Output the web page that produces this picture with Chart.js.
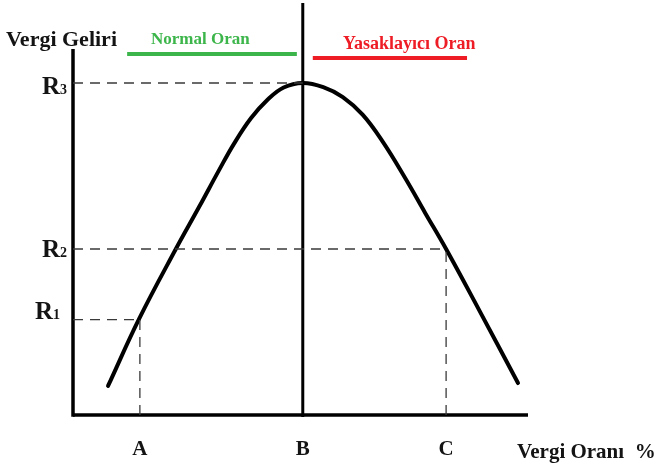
<!DOCTYPE html>
<html>
<head>
<meta charset="utf-8">
<script src="https://cdn.jsdelivr.net/npm/chart.js@4.4.1/dist/chart.umd.min.js"></script>
<style>
    html, body { margin: 0; padding: 0; background: #fff; }
    #wrap { width: 657px; height: 464px; position: relative; }
</style>
</head>
<body>
<div id="wrap"><canvas id="laffer"></canvas></div>
<script>
// Laffer egrisi (0-100 birim)
const categories = ['A', 'B', 'C'];
const categoryX = [14.7, 50.5, 82.0];
const revenueLabels = ['R1', 'R2', 'R3'];
const revenueY = [23, 40, 80];

const curveX = [7.7, 14.5, 22.6, 27.7, 32.1, 35.4, 39.1, 42.7, 46.3, 50.5, 55.0, 59.3, 63.7, 68.1, 73.0, 77.4, 82.0, 89.5, 97.8];
const curveY = [7.0, 23.1, 40.0, 50.1, 59.0, 65.4, 71.5, 75.9, 78.9, 80.0, 79.0, 76.6, 72.3, 65.8, 57.1, 48.7, 40.0, 24.8, 7.7];

const axisTopY = 88.2;
const axisRightX = 100;
const normalRange = [11.9, 49.2];
const normalY = 87.0;
const prohibitiveRange = [52.7, 86.6];
const prohibitiveY = 86.0;

const yTitle = 'Vergi Geliri';
const xTitle = 'Vergi Oranı  %';
const normalText = 'Normal Oran';
const prohibitiveText = 'Yasaklayıcı Oran';

function seg(x1, y1, x2, y2) {
    return [{ x: x1, y: y1 }, { x: x2, y: y2 }];
}

const dashStyle = {
    borderColor: '#3a3a3a',
    borderWidth: 1.3,
    borderDash: [10, 7],
    pointRadius: 0,
    showLine: true,
    clip: false,
};

const solidStyle = (color, width) => ({
    borderColor: color,
    borderWidth: width,
    pointRadius: 0,
    showLine: true,
    clip: false,
});

const datasets = [
    // kesikli yardimci cizgiler
    { data: seg(0, revenueY[2], categoryX[1], revenueY[2]), ...dashStyle },
    { data: seg(0, revenueY[1], categoryX[2], revenueY[1]), ...dashStyle },
    { data: seg(0, revenueY[0], categoryX[0], revenueY[0]), ...dashStyle },
    { data: seg(categoryX[0], 0, categoryX[0], revenueY[0]), ...dashStyle },
    { data: seg(categoryX[2], 0, categoryX[2], revenueY[1]), ...dashStyle },
    // eksenler
    { data: seg(0, -0.4, 0, axisTopY), ...solidStyle('#000', 3.5) },
    { data: seg(0, 0, axisRightX, 0), ...solidStyle('#000', 3.5) },
    { data: seg(categoryX[1], -0.5, categoryX[1], 99.3), ...solidStyle('#000', 3) },
    // bolge cizgileri
    { data: seg(normalRange[0], normalY, normalRange[1], normalY), ...solidStyle('#3cb54a', 4) },
    { data: seg(prohibitiveRange[0], prohibitiveY, prohibitiveRange[1], prohibitiveY), ...solidStyle('#ee1c25', 4) },
    // egri
    {
        data: curveX.map((x, i) => ({ x: x, y: curveY[i] })),
        ...solidStyle('#000', 4),
        tension: 0.4,
        borderCapStyle: 'round',
    },
];

const labelsPlugin = {
    id: 'lafferLabels',
    afterDraw(chart) {
        const ctx = chart.ctx;
        const xs = chart.scales.x;
        const ys = chart.scales.y;
        const serif = '"Liberation Serif", "Times New Roman", serif';
        ctx.save();
        ctx.fillStyle = '#141414';
        ctx.textBaseline = 'alphabetic';

        // A B C
        ctx.font = 'bold 21px ' + serif;
        ctx.textAlign = 'center';
        categories.forEach((c, i) => {
            ctx.fillText(c, xs.getPixelForValue(categoryX[i]), 455);
        });

        // R1 R2 R3
        const rOffsets = [-1, 8, 11];
        const rRight = [60, 67, 67];
        revenueLabels.forEach((r, i) => {
            const py = ys.getPixelForValue(revenueY[i]) + rOffsets[i];
            ctx.textAlign = 'right';
            ctx.font = 'bold 14px ' + serif;
            const subW = ctx.measureText(r.slice(1)).width;
            ctx.fillText(r.slice(1), rRight[i], py);
            ctx.font = 'bold 25px ' + serif;
            ctx.fillText(r[0], rRight[i] - subW, py);
        });

        // eksen basliklari
        ctx.textAlign = 'left';
        ctx.font = 'bold 22px ' + serif;
        ctx.fillText(yTitle, 6, 46);
        ctx.font = 'bold 21px ' + serif;
        ctx.fillText(xTitle, 517, 458);

        // bolge basliklari
        ctx.font = 'bold 17px ' + serif;
        ctx.fillStyle = '#3cb54a';
        ctx.fillText(normalText, 151, 44);
        ctx.font = 'bold 18px ' + serif;
        ctx.fillStyle = '#ee1c25';
        ctx.fillText(prohibitiveText, 343, 49);
        ctx.restore();
    },
};

new Chart(document.getElementById('laffer'), {
    type: 'scatter',
    data: { datasets: datasets },
    options: {
        responsive: true,
        maintainAspectRatio: false,
        animation: false,
        layout: { padding: { left: 73, right: 129, top: 0, bottom: 49 } },
        plugins: {
            legend: { display: false },
            tooltip: { enabled: false },
        },
        scales: {
            x: { type: 'linear', min: 0, max: 100, display: false },
            y: { type: 'linear', min: 0, max: 100, display: false },
        },
    },
    plugins: [labelsPlugin],
});
</script>
</body>
</html>
